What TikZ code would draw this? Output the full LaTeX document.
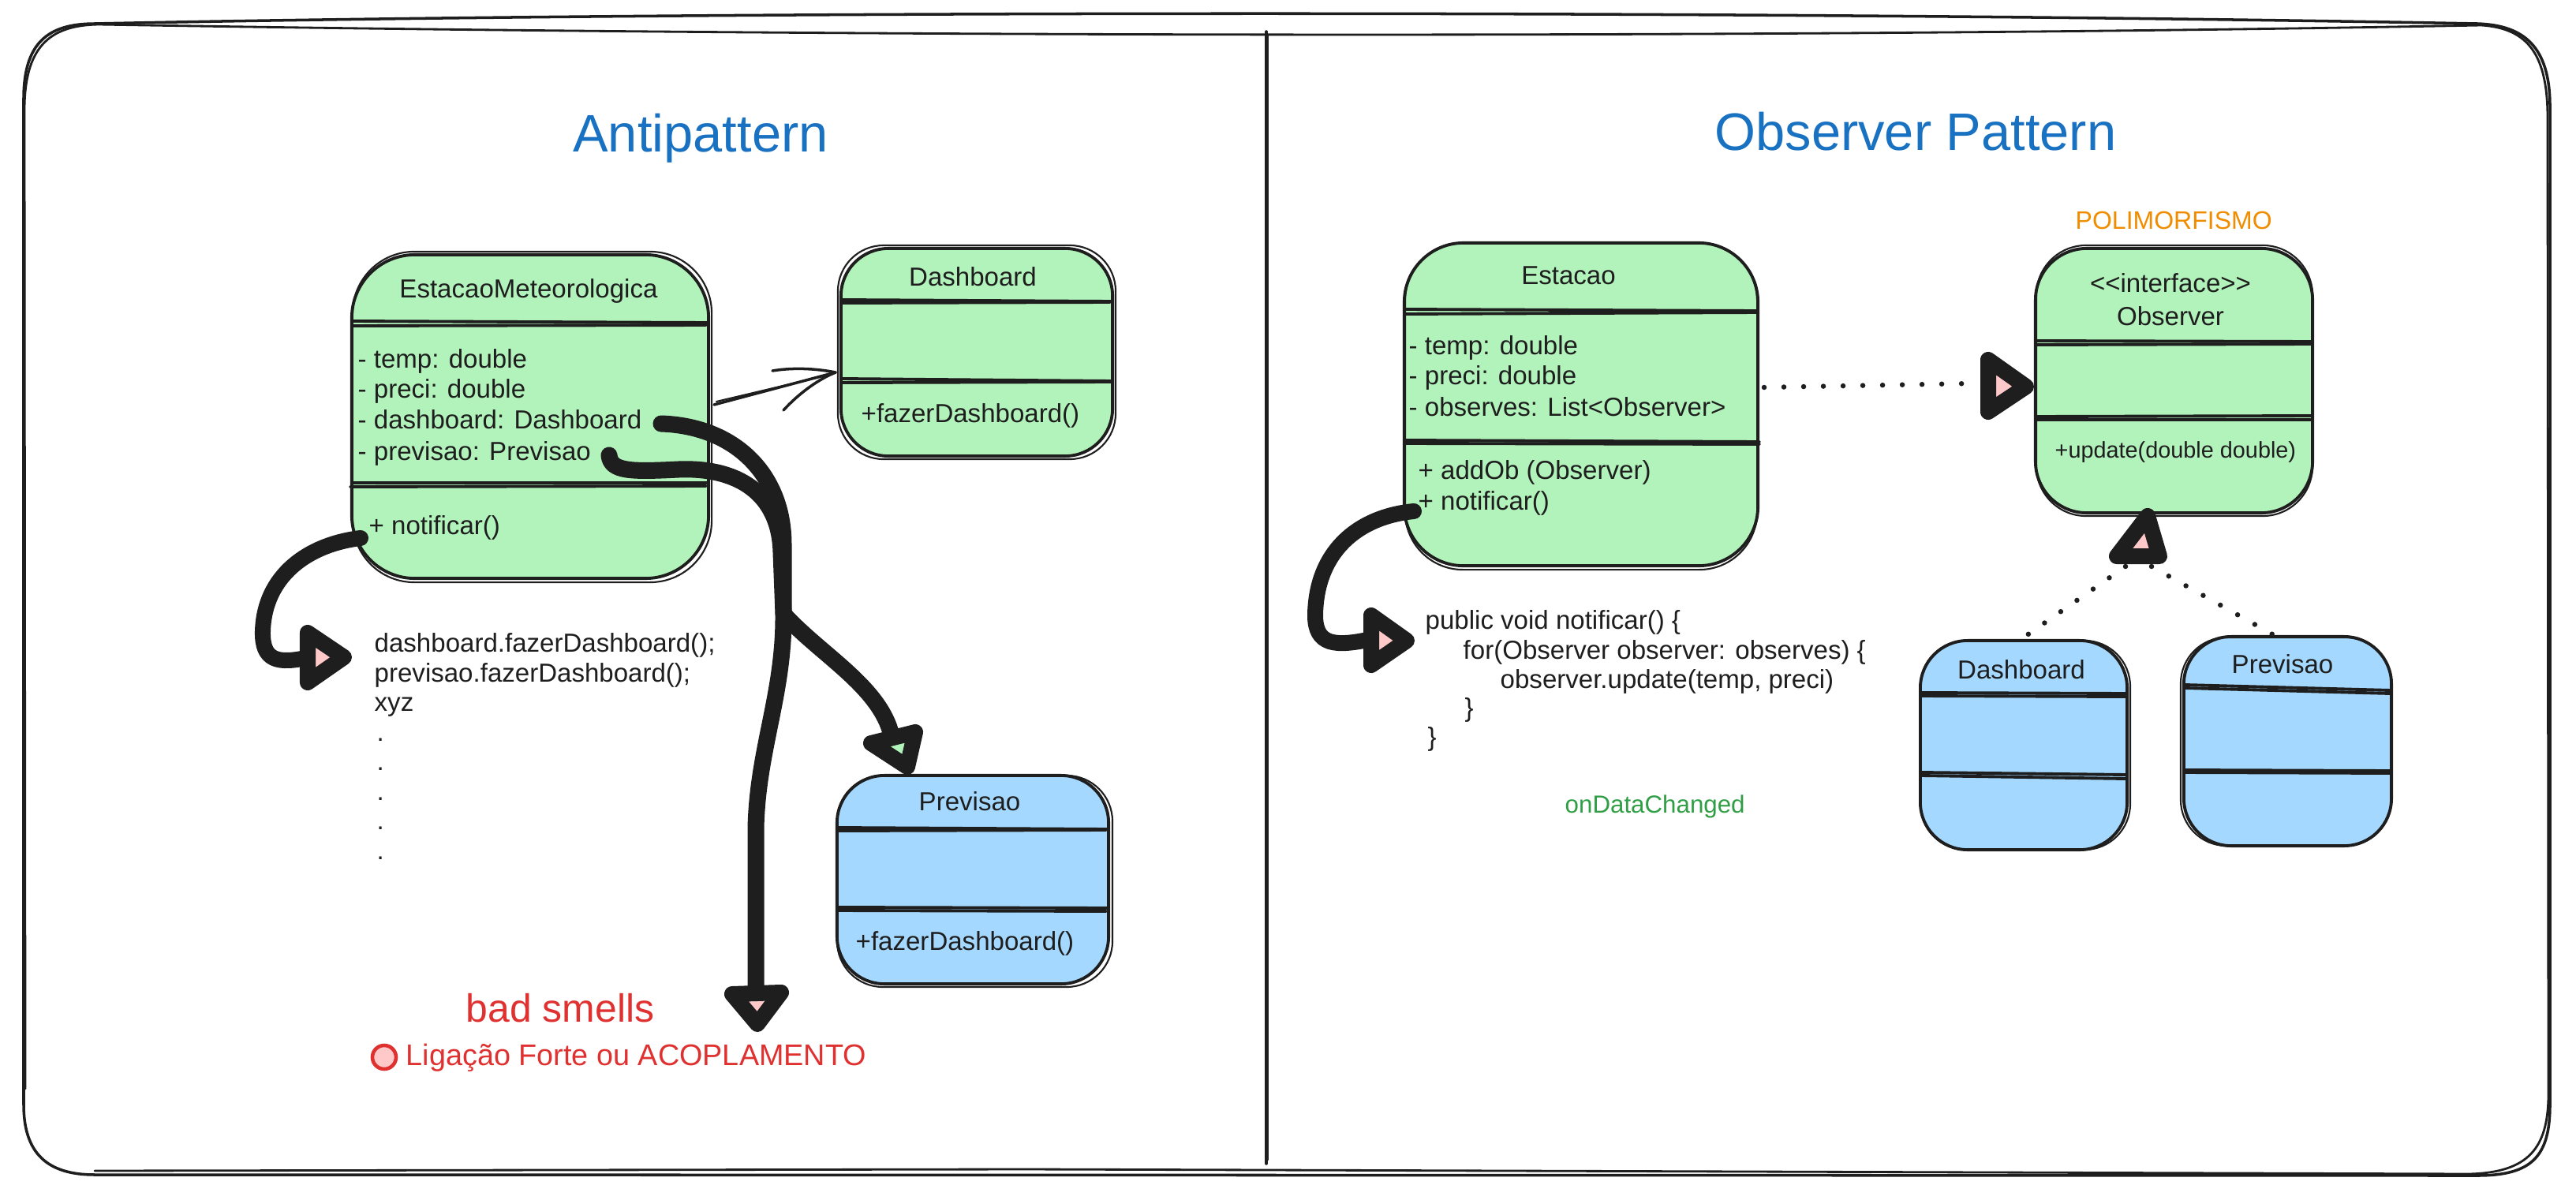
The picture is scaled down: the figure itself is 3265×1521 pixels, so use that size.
\documentclass[tikz,border=0pt]{standalone}
\usepackage{fontspec}
\setmainfont{Liberation Sans}
\usetikzlibrary{calc}
\definecolor{ink}{HTML}{1E1E1E}
\definecolor{gfill}{HTML}{B2F2BB}
\definecolor{bfill}{HTML}{A5D8FF}
\definecolor{pinkf}{HTML}{FFC9C9}
\definecolor{ttlblue}{HTML}{1971C2}
\definecolor{redt}{HTML}{E03131}
\definecolor{oranget}{HTML}{F08C00}
\definecolor{greent}{HTML}{2F9E44}
\begin{document}
\begin{tikzpicture}[x=0.01cm,y=-0.01cm,line cap=round,line join=round,
  clsbox/.style={draw=ink,line width=1.1pt,rounded corners=#1,inner sep=0pt},
  sktwo/.style={draw=ink,line width=0.6pt,rounded corners=#1},
  divl/.style={draw=ink,line width=1.1pt},
  txt/.style={inner sep=0pt,anchor=base west,text=ink,font=\fontsize{9.4}{11}\selectfont},
  ctxt/.style={txt,anchor=base},
  smalltxt/.style={txt,font=\fontsize{8.2}{10}\selectfont},
  bigttl/.style={inner sep=0pt,anchor=base,text=ttlblue,font=\fontsize{19}{22}\selectfont},
  heavy/.style={draw=ink,line width=0.21cm,line cap=round,line join=round},
  headp/.style={draw=ink,fill=pinkf,line width=0.2cm,line join=round},
  headg/.style={headp,fill=gfill},
  dotl/.style={draw=ink,line width=0.065cm,line cap=round,dash pattern=on 0pt off 0.25cm},
  thinl/.style={draw=ink,line width=1pt},
  framel/.style={draw=ink,line width=1pt}]
\useasboundingbox (0,0) rectangle (3265,1521);

% ---------- outer frame ----------
\draw[framel] (30,1400) -- (30,125) .. controls (30,55) and (60,30) .. (120,30)
  .. controls (1000,12) and (2300,14) .. (3140,30)
  .. controls (3200,32) and (3232,60) .. (3232,135) -- (3232,1400)
  .. controls (3232,1465) and (3210,1490) .. (3140,1490) -- (120,1489)
  .. controls (60,1489) and (30,1462) .. (30,1400);
\draw[framel,line width=0.8pt] (32,1380) -- (31,140) .. controls (31,60) and (62,32) .. (125,31)
  .. controls (1000,46) and (2200,50) .. (3145,32)
  .. controls (3205,36) and (3229,70) .. (3229,150) -- (3230,1390)
  .. controls (3229,1455) and (3205,1486) .. (3130,1488) -- (1300,1482) -- (120,1484);
\draw[framel] (1605,40) -- (1605,1475);
\draw[framel,line width=0.6pt] (1607,45) -- (1607,1470);

% ---------- titles ----------
\node[bigttl] (tAnti) at (888,192) {Antipattern};
\node[bigttl] (tObs) at (2428,190) {Observer Pattern};

% ---------- left: EstacaoMeteorologica ----------
\node[clsbox=0.8cm,fill=gfill,minimum width=4.52cm,minimum height=4.10cm] (emL) at (672,528) {};
\draw[sktwo=0.78cm] ([shift={(3,-2)}]emL.north west) rectangle ([shift={(2,3)}]emL.south east);
\draw[divl] (447,407) -- (897,409);
\draw[divl] (447,413) -- (895,412);
\draw[divl] (447,612) -- (897,612);
\draw[divl] (444,617) -- (895,616);
\node[ctxt] (emLt) at (670,377) {EstacaoMeteorologica};
\node[txt] (emLa1) at (453,466) {- temp: double};
\node[txt] (emLa2) at (453,504) {- preci: double};
\node[txt] (emLa3) at (453,543) {- dashboard: Dashboard};
\node[txt] (emLa4) at (453,583) {- previsao: Previsao};
\node[txt] (emLm1) at (467,677) {+ notificar()};

% ---------- left: Dashboard ----------
\node[clsbox=0.6cm,fill=gfill,minimum width=3.44cm,minimum height=2.63cm] (dashL) at (1238,446.5) {};
\draw[sktwo=0.58cm] ([shift={(-2,-2)}]dashL.north west) rectangle ([shift={(2,2)}]dashL.south east);
\draw[divl] (1067,380) -- (1409,382);
\draw[divl] (1067,384) -- (1407,383);
\draw[divl] (1067,480) -- (1409,483);
\draw[divl] (1067,485) -- (1409,484);
\node[ctxt] (dashLt) at (1233,362) {Dashboard};
\node[txt] (dashLm) at (1091,535) {+fazerDashboard()};

% ---------- left: Previsao ----------
\node[clsbox=0.6cm,fill=bfill,minimum width=3.44cm,minimum height=2.64cm] (prevL) at (1233,1115) {};
\draw[sktwo=0.58cm] ([shift={(2,2)}]prevL.north west) rectangle ([shift={(3,2)}]prevL.south east);
\draw[divl] (1062,1049) -- (1404,1051);
\draw[divl] (1062,1053) -- (1402,1052);
\draw[divl] (1062,1150) -- (1404,1151);
\draw[divl] (1062,1154) -- (1402,1155);
\node[ctxt] (prevLt) at (1229,1027) {Previsao};
\node[txt] (prevLm) at (1084,1204) {+fazerDashboard()};

% ---------- left: code ----------
\node[txt] (cA1) at (474,826) {dashboard.fazerDashboard();};
\node[txt] (cA2) at (474,864) {previsao.fazerDashboard();};
\node[txt] (cA3) at (474,901) {xyz};
\node[txt] (cA4) at (477,939) {.};
\node[txt] (cA5) at (477,976) {.};
\node[txt] (cA6) at (477,1014) {.};
\node[txt] (cA7) at (477,1051) {.};
\node[txt] (cA8) at (477,1089) {.};

% ---------- left: bad smells ----------
\node[inner sep=0pt,anchor=base west,text=redt,font=\fontsize{14.2}{17}\selectfont] (bad) at (590,1295) {bad smells};
\node[draw=redt,fill=pinkf,line width=1.3pt,circle,minimum size=0.3cm,inner sep=0pt] (dotc) at (487,1340) {};
\node[inner sep=0pt,anchor=base west,text=redt,font=\fontsize{10.75}{12}\selectfont] (lig) at (514,1350) {Ligação Forte ou ACOPLAMENTO};

% ---------- left connectors ----------
\coordinate (thS) at (905,513);
\coordinate (thT) at (1059,472);
\draw[thinl] (thS) -- (thT);
\draw[thinl,line width=0.6pt] ([shift={(3,-4)}]thS) -- ([shift={(-3,2)}]thT);
\draw[thinl] ([shift={(-80,-2)}]thT) .. controls ([shift={(-50,-7)}]thT) and ([shift={(-20,-4)}]thT) .. (thT);
\draw[thinl] ([shift={(-66,48)}]thT) .. controls ([shift={(-45,25)}]thT) and ([shift={(-20,8)}]thT) .. (thT);

\coordinate (dA) at (838,537);
\coordinate (pA) at (772,577);
\coordinate (jn) at (993,778);
\coordinate (downEnd) at (958,1258);
\coordinate (prevEnd) at (1130,932);
\draw[heavy] (dA) .. controls (930,540) and (993,600) .. (993,690) -- (jn)
   .. controls (994,880) and (960,950) .. (958,1050) -- (downEnd);
\draw[headp] (928,1260) -- (990,1258) -- (960,1298) -- cycle;
\draw[heavy] (pA) .. controls (774,598) and (800,598) .. (860,595)
   .. controls (935,592) and (988,625) .. (990,700) -- (jn)
   .. controls (1040,830) and (1115,870) .. (prevEnd);
\draw[headg] (1104,942) -- (1160,928) -- (1150,972) -- cycle;

\coordinate (lnA) at (457,682);
\coordinate (lnB) at (392,833);
\draw[heavy,line width=0.2cm] (lnA) .. controls (390,690) and (335,730) .. (333,800)
   .. controls (332,838) and (352,842) .. (lnB);
\draw[headp] (390,802) -- (390,865) -- (436,833) -- cycle;

% ---------- right: Estacao ----------
\node[clsbox=0.75cm,fill=gfill,minimum width=4.48cm,minimum height=4.09cm] (estR) at (2004,512.5) {};
\draw[sktwo=0.73cm] ([shift={(3,2)}]estR.north west) rectangle ([shift={(-3,3)}]estR.south east);
\draw[divl] (1781,392) -- (2226,394);
\draw[divl] (1781,398) -- (2228,396);
\draw[divl] (1780,558) -- (2230,560);
\draw[divl] (1781,562) -- (2230,563);
\node[ctxt] (estRt) at (1988,360) {Estacao};
\node[txt] (estRa1) at (1785,449) {- temp: double};
\node[txt] (estRa2) at (1785,487) {- preci: double};
\node[txt] (estRa3) at (1785,527) {- observes: List<Observer>};
\node[txt] (estRm1) at (1797,607) {+ addOb (Observer)};
\node[txt] (estRm2) at (1797,646) {+ notificar()};

% ---------- right: Observer ----------
\node[inner sep=0pt,anchor=base west,text=oranget,font=\fontsize{9.1}{11}\selectfont] (poli) at (2630,290) {POLIMORFISMO};
\node[clsbox=0.65cm,fill=gfill,minimum width=3.51cm,minimum height=3.35cm] (obsR) at (2755.5,482.5) {};
\draw[sktwo=0.63cm] ([shift={(3,-2)}]obsR.north west) rectangle ([shift={(-2,2)}]obsR.south east);
\draw[divl] (2581,432) -- (2930,433);
\draw[divl] (2581,437) -- (2930,436);
\draw[divl] (2581,528) -- (2930,527);
\draw[divl] (2581,532) -- (2930,532);
\node[ctxt] (obsRs) at (2751,370) {<\kern0pt<interface>\kern0pt>};
\node[ctxt] (obsRt) at (2751,412) {Observer};
\node[smalltxt] (obsRm) at (2604,580) {+update(double double)};

% ---------- right: Dashboard / Previsao ----------
\node[clsbox=0.6cm,fill=bfill,minimum width=2.62cm,minimum height=2.65cm] (dashR) at (2565,944.5) {};
\draw[sktwo=0.58cm] ([shift={(2,2)}]dashR.north west) rectangle ([shift={(2,-2)}]dashR.south east);
\draw[divl] (2435,878) -- (2695,879);
\draw[divl] (2435,882) -- (2695,883);
\draw[divl] (2435,979) -- (2695,982);
\draw[divl] (2435,983) -- (2695,987);
\node[ctxt] (dashRt) at (2562,860) {Dashboard};

\node[clsbox=0.6cm,fill=bfill,minimum width=2.63cm,minimum height=2.65cm] (prevR) at (2899.5,939.5) {};
\draw[sktwo=0.58cm] ([shift={(-2,3)}]prevR.north west) rectangle ([shift={(-2,-2)}]prevR.south east);
\draw[divl] (2769,868) -- (3030,875);
\draw[divl] (2769,872) -- (3030,879);
\draw[divl] (2768,976) -- (3030,977);
\draw[divl] (2768,979) -- (3030,980);
\node[ctxt] (prevRt) at (2893,853) {Previsao};

% ---------- right: code ----------
\node[txt] (cB1) at (1806,797) {public void notificar() \{};
\node[txt] (cB2) at (1854,835) {for(Observer observer: observes) \{};
\node[txt] (cB3) at (1901,872) {observer.update(temp, preci)};
\node[txt] (cB4) at (1856,908) {\}};
\node[txt] (cB5) at (1809,945) {\}};
\node[inner sep=0pt,anchor=base west,text=greent,font=\fontsize{8.9}{11}\selectfont] (ondc) at (1983,1030) {onDataChanged};

% ---------- right connectors ----------
\coordinate (rnA) at (1792,648);
\coordinate (rnB) at (1738,810);
\draw[heavy,line width=0.2cm] (rnA) .. controls (1720,655) and (1668,700) .. (1667,780)
   .. controls (1667,818) and (1692,820) .. (rnB);
\draw[headp] (1738,780) -- (1738,843) -- (1783,812) -- cycle;

\coordinate (dsS) at (2236,491);
\coordinate (dsE) at (2500,486);
\draw[dotl] (dsS) -- (dsE);
\draw[headp] (2520,456) -- (2520,522) -- (2568,490) -- cycle;

\draw[headp] (2722,654) -- (2683,705) -- (2737,705) -- cycle;
\coordinate (upL) at (2694,718);
\coordinate (upR) at (2727,718);
\draw[dotl] (upL) -- (dashR.north -| 2562,0);
\draw[dotl] (upR) -- (prevR.north -| 2882,0);

\end{tikzpicture}
\end{document}
